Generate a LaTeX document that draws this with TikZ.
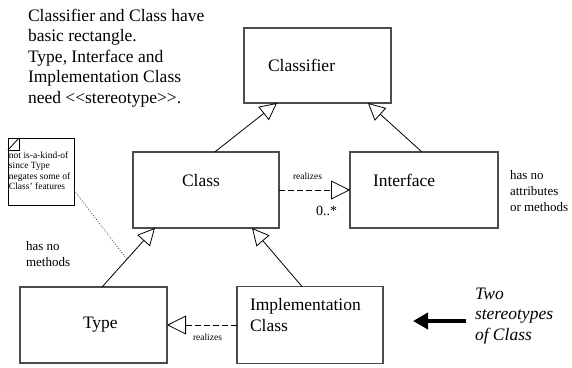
\documentclass[tikz,border=0pt]{standalone}
\usepackage{fontspec}
\setmainfont{Liberation Serif}
\usetikzlibrary{arrows.meta,calc}
\begin{document}
\begin{tikzpicture}[x=1pt,y=-1pt,
  umlbox/.style n args={2}{draw=black!70, line width=1.3pt, fill=white,
    inner sep=0pt, outer sep=0pt, minimum width=#1, minimum height=#2},
  notebox/.style={draw=black, line width=0.8pt, fill=white,
    inner sep=0pt, outer sep=0pt, minimum width=66pt, minimum height=67pt},
  txt/.style={inner sep=0pt, outer sep=0pt, anchor=base west, align=left},
  bigtxt/.style={txt, font=\fontsize{17.5}{20.5}\selectfont},
  midtxt/.style={txt, font=\fontsize{13}{16}\selectfont},
  smalltxt/.style={txt, font=\fontsize{9.5}{10.4}\selectfont},
  gen/.style={draw=black, line width=0.8pt, -{Triangle[open, length=17pt, width=17pt, line width=0.8pt]}},
  realize/.style={draw=black, line width=0.8pt, dash pattern=on 6pt off 3pt,
    -{Triangle[open, length=19pt, width=19pt, line width=0.8pt]}},
  noteline/.style={draw=black!70, line width=0.7pt, dash pattern=on 1pt off 1.6pt},
  bigarrow/.style={draw=black, line width=4pt, -{Triangle[length=15pt, width=16pt]}}
]
\useasboundingbox (0,0) rectangle (572,367);

% class boxes
\node[umlbox={147pt}{75pt}] (classifier) at (317.5,65.5) {};
\node[umlbox={146pt}{76pt}] (class) at (206,190) {};
\node[umlbox={148pt}{76pt}] (interface) at (424,190) {};
\node[umlbox={147pt}{76pt}] (type) at (93.5,325) {};
\node[umlbox={146pt}{77pt}] (impl) at (310,325) {};

% class names (multi-line texts sit on the baseline of their last line)
\node[bigtxt] (classifiername) at (268,71) {Classifier};
\node[bigtxt] (classname) at (182,186) {Class};
\node[bigtxt] (interfacename) at (373,186) {Interface};
\node[bigtxt] (typename) at (83,328) {Type};
\node[bigtxt] (implname) at (250,331) {Implementation\\Class};

% generalizations
\draw[gen] ($(class.north west)!0.56!(class.north east)$) -- ($(classifier.south west)!0.224!(classifier.south east)$);
\draw[gen] ($(interface.north west)!0.486!(interface.north east)$) -- ($(classifier.south west)!0.843!(classifier.south east)$);
\draw[gen] ($(type.north west)!0.558!(type.north east)$) -- coordinate[pos=0.47] (notetarget) ($(class.south west)!0.15!(class.south east)$);
\draw[gen] ($(impl.north west)!0.445!(impl.north east)$) -- ($(class.south west)!0.815!(class.south east)$);

% realizations
\draw[realize] (class.east) -- (interface.west);
\draw[realize] (impl.west) -- (type.east);
\node[smalltxt] (realizesA) at (293,179) {realizes};
\node[smalltxt] (realizesB) at (193,340) {realizes};
\node[txt, font=\fontsize{14}{16}\selectfont] (mult) at (316,215) {0..*};

% note
\node[notebox] (note) at (41,171.5) {};
\draw[line width=0.8pt] (note.north west) rectangle ++(11,12);
\draw[line width=0.8pt] ($(note.north west)+(0,12)$) -- ++(11,-12);
\node[smalltxt] (notetext) at (9,189.5) {not is-a-kind-of\\since Type\\negates some of\\Class' features};
\draw[noteline] ($(note.north east)!0.78!(note.south east)$) -- (notetarget);

% free text
\node[bigtxt] (summary) at (28,103) {Classifier and Class have\\basic rectangle.\\Type, Interface and\\Implementation Class\\need <\kern0pt<stereotype>\kern0pt>.};
\node[midtxt] (nomethods) at (26,266) {has no\\methods};
\node[midtxt] (noattrs) at (510,211) {has no\\attributes\\or methods};
\node[bigtxt, font=\fontsize{17.5}{20.5}\selectfont\itshape] (stereo) at (475,340) {Two\\stereotypes\\of Class};
\coordinate (arrowtail) at (466,321);
\draw[bigarrow] (arrowtail) -- (413,321);
\end{tikzpicture}
\end{document}
